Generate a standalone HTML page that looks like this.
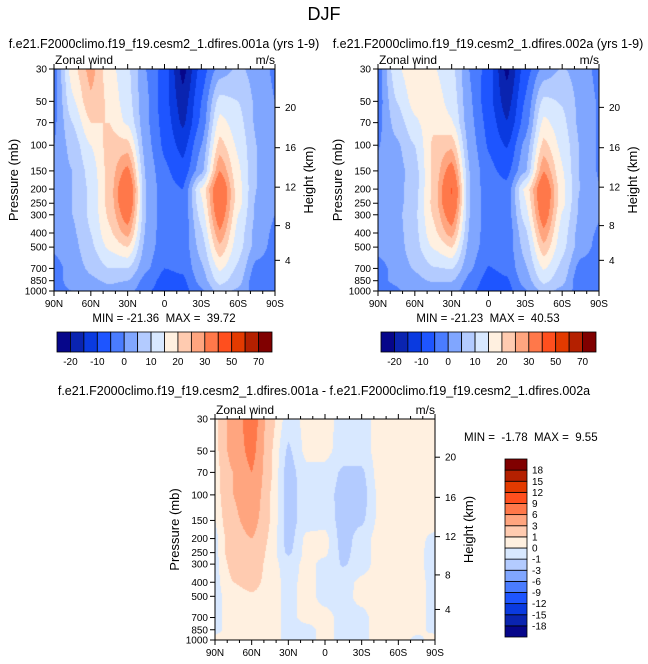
<!DOCTYPE html>
<html><head><meta charset="utf-8"><style>
html,body{margin:0;padding:0;background:#fff;}
#root{position:relative;width:648px;height:664px;overflow:hidden;font-family:"Liberation Sans",sans-serif;}
canvas{position:absolute;}
svg{position:absolute;left:0;top:0;}
text{font-family:"Liberation Sans",sans-serif;fill:#000;white-space:pre;}
</style></head><body>
<div id="root">
<canvas id="c1"></canvas>
<canvas id="c2"></canvas>
<canvas id="c3"></canvas>
<svg id="s" width="648" height="664"></svg>
</div>
<script>
const lats = [90,75,60,45,30,15,0,-15,-30,-45,-60,-75,-90];
const levs = [30,50,70,100,150,200,250,300,400,500,700,850,1000];
const U1 = [
[-2,18,27,17,11,0,-7,-22,-8,2,6,3,-1],
[-2,14,24,19,12,1,-8,-18,-5,12,10,4,0],
[-1,10,20,20,14,1,-7,-16,-4,17,12,4,0],
[0,7,15,22,22,2,-6,-12,0,22,14,5,0],
[1,5,12,22,32,4,-4,-8,3,30,16,5,0],
[2,5,11,22,39,5,-3,-5,16,38,17,5,0],
[2,5,11,22,38,5,-3,-4,14,37,17,4,0],
[2,5,11,21,34,5,-3,-4,12,35,15,4,0],
[2,4,10,19,27,4,-3,-4,9,29,13,3,-1],
[1,3,9,16,20,3,-3,-3,7,24,12,3,-2],
[-2,2,6,10,10,1,-5,-4,4,16,9,-2,-3],
[-1,1,4,6,5,-2,-7,-6,2,12,7,-4,-2],
[-1,0,2,3,2,-4,-8,-7,-1,7,4,-3,-2]];
const D = [
[0.5,4,8,1.5,-0.5,0.3,0.5,-0.5,-0.5,0.5,0.5,0.5,0.5],
[0.5,4,7,1.2,-1.2,0.3,0.3,-0.5,-0.5,0.5,0.5,0.5,0.5],
[0.4,3,6,1.2,-1.5,-0.3,-0.3,-1.2,-1.2,0.5,0.5,0.5,0.5],
[0.3,3,5,1,-1.5,-0.5,-0.5,-1.5,-1.5,0.3,0.5,0.5,0.5],
[0,2.5,4,1,-1.5,-0.5,-0.3,-1.5,-1.2,0.3,0.5,0.5,0.5],
[-0.3,2,3,0.8,-1.5,0.3,0.3,-1.5,-0.5,0.5,0.5,0.3,-0.3],
[-0.3,2,2.5,0.6,-1.2,0.3,0.2,-1.3,-0.5,0.5,0.5,0.3,-0.5],
[-0.3,1.5,2,0.5,-0.5,0.3,-0.3,-1.1,-0.5,0.5,0.5,0.3,-0.5],
[-0.3,1,1.5,0.5,-0.3,0.3,-0.3,-0.5,0.3,0.5,0.5,0.3,-0.3],
[-0.3,0.5,0.8,0.5,-0.3,0.3,-0.3,-0.3,0.3,0.5,0.5,0.3,-0.3],
[-0.3,0.5,0.5,0.5,-0.3,0.3,0.3,-0.3,-0.3,0.5,0.5,0.3,-0.3],
[-0.3,0.5,0.5,0.5,-0.3,-0.3,0.3,-0.3,-0.3,0.5,0.5,0.3,-0.3],
[0.3,0.5,0.5,0.5,-0.3,-0.3,0.3,-0.3,-0.3,0.5,0.5,-0.3,0.5]];
const levelsMain = [-20,-15,-10,-5,0,5,10,15,20,25,30,40,50,60,70];
const levelsDiff = [-18,-15,-12,-9,-6,-3,-1,0,1,3,6,9,12,15,18];
const mainLabels = ["-20","-10","0","10","20","30","50","70"];
const diffLabels = ["-18","-15","-12","-9","-6","-3","-1","0","1","3","6","9","12","15","18"];
const pTicks = [30,50,70,100,150,200,250,300,400,500,700,850,1000];
const hTicks = [4,8,12,16,20];
const hTickP = [616,356,194,104,55];
const latTicks = [90,60,30,0,-30,-60,-90];
const latTickLabels = ["90N","60N","30N","0","30S","60S","90S"];
const colors = ['#06068a','#0a24b0','#0a3ae0','#1e55ff','#4a7cff','#80a6ff','#b3cbff','#d8e8ff','#fff0e0','#ffcbb0','#ffa57f','#ff784a','#ff4f1e','#e33a00','#b42000','#800000'];
const U2 = U1.map((r,i)=>r.map((v,j)=>v - D[i][j]));

const NS='http://www.w3.org/2000/svg';
const svg=document.getElementById('s');
function el(tag,attrs,parent){const e=document.createElementNS(NS,tag);for(const k in attrs)e.setAttribute(k,attrs[k]);(parent||svg).appendChild(e);return e;}
function txt(x,y,s,size,anchor,extra){const t=el('text',Object.assign({x:x,y:y,'font-size':size,'text-anchor':anchor||'start'},extra||{}));t.textContent=s;return t;}

const LP=Math.log(1000/30);
function yP(P,p){return P.y+Math.log(p/30)/LP*P.h;}
function xL(P,lat){return P.x+(90-lat)/180*P.w;}
function sm(f){return f*f*(3-2*f);}
function sample(G,fi,p){
  let i0=Math.min(11,Math.max(0,Math.floor(fi)));let fx=fi-i0;
  let j=0;while(j<11&&levs[j+1]<p)j++;
  let fy=Math.log(p/levs[j])/Math.log(levs[j+1]/levs[j]);fy=Math.max(0,Math.min(1,fy));
  const a=G[j][i0],b=G[j][i0+1],c=G[j+1][i0],d=G[j+1][i0+1];
  fx=0.5*fx+0.5*sm(fx);
  return (a*(1-fx)+b*fx)*(1-fy)+(c*(1-fx)+d*fx)*fy;
}
function bin(v,L){let k=0;while(k<L.length&&v>=L[k])k++;return k;}
function drawField(id,P,G,L){
  const cv=document.getElementById(id);cv.width=P.w;cv.height=P.h;
  cv.style.left=P.x+'px';cv.style.top=P.y+'px';
  const ctx=cv.getContext('2d');
  for(let py=0;py<P.h;py++){
    const p=30*Math.exp((py+0.5)/P.h*LP);
    for(let px=0;px<P.w;px++){
      const fi=(px+0.5)/P.w*12;
      ctx.fillStyle=colors[bin(sample(G,fi,p),L)];
      ctx.fillRect(px,py,1,1);
    }
  }
}
function axes(P,name){
  el('rect',{x:P.x,y:P.y,width:P.w,height:P.h,fill:'none',stroke:'#000','stroke-width':1,});
  pTicks.forEach(p=>{const y=yP(P,p);el('line',{x1:P.x-5,x2:P.x,y1:y,y2:y,stroke:'#000'});
    const t=txt(P.x-7,y+3.5,String(p),10,'end');});
  hTicks.forEach((h,i)=>{const y=yP(P,hTickP[i]);el('line',{x1:P.x+P.w,x2:P.x+P.w+5,y1:y,y2:y,stroke:'#000'});
    const t=txt(P.x+P.w+10,y+3.5,String(h),10,'start');});
  for(let lat=90;lat>=-90;lat-=10){const x=xL(P,lat);const maj=(lat%30===0);const L=maj?5:3;
    el('line',{x1:x,x2:x,y1:P.y+P.h,y2:P.y+P.h+L,stroke:'#000'});
    el('line',{x1:x,x2:x,y1:P.y,y2:P.y-L,stroke:'#000'});}
  latTicks.forEach((lat,i)=>{const t=txt(xL(P,lat),P.y+P.h+16,latTickLabels[i],10,'middle');});
  let t=txt(P.x+1,P.y-5,'Zonal wind',12,'start');
  t=txt(P.x+P.w,P.y-5,'m/s',12,'end');
  const cy=P.y+P.h/2;
  t=txt(P.x-36,cy,'Pressure (mb)',13,'middle',{transform:`rotate(-90 ${P.x-36} ${cy})`});
  t=txt(P.x+P.w+38,cy,'Height (km)',13,'middle',{transform:`rotate(-90 ${P.x+P.w+38} ${cy})`});
}
function hbar(x,y,w,h,name){
  const n=colors.length,bw=w/n;
  colors.forEach((c,k)=>{const r=el('rect',{x:x+k*bw,y:y,width:bw,height:h,fill:c,stroke:'#000','stroke-width':0.8});
    });
  mainLabels.forEach((s,i)=>{const t=txt(x+bw*(1+2*i),y+h+13,s,10,'middle');});
}
function vbar(x,y,w,h,name){
  const n=colors.length,bh=h/n;
  colors.forEach((c,k)=>{const r=el('rect',{x:x,y:y+(n-1-k)*bh,width:w,height:bh,fill:c,stroke:'#000','stroke-width':0.8});
    });
  diffLabels.forEach((s,i)=>{const t=txt(x+w+5,y+h-(i+1)*bh+3.5,s,10,'start');});
}
const P1={x:54,y:69,w:221,h:222},P2={x:378,y:69,w:221,h:222},P3={x:215,y:419,w:220,h:221};
drawField('c1',P1,U1,levelsMain);drawField('c2',P2,U2,levelsMain);drawField('c3',P3,D,levelsDiff);
axes(P1,'panel-001a');axes(P2,'panel-002a');axes(P3,'panel-diff');
hbar(57,332,215,20,'colorbar-001a');hbar(381,332,215,20,'colorbar-002a');vbar(505,459,22,178,'colorbar-diff');
let t;
t=txt(324,20,'DJF',18,'middle');
t=txt(164,48,'f.e21.F2000climo.f19_f19.cesm2_1.dfires.001a (yrs 1-9)',12.5,'middle');
t=txt(488,48,'f.e21.F2000climo.f19_f19.cesm2_1.dfires.002a (yrs 1-9)',12.5,'middle');
t=txt(324,395,'f.e21.F2000climo.f19_f19.cesm2_1.dfires.001a - f.e21.F2000climo.f19_f19.cesm2_1.dfires.002a',12.5,'middle');
t=txt(164,322,'MIN = -21.36  MAX =  39.72',11.5,'middle');
t=txt(488,322,'MIN = -21.23  MAX =  40.53',11.5,'middle');
t=txt(464,441,'MIN =  -1.78  MAX =  9.55',11.5,'start');
</script>
</body></html>
